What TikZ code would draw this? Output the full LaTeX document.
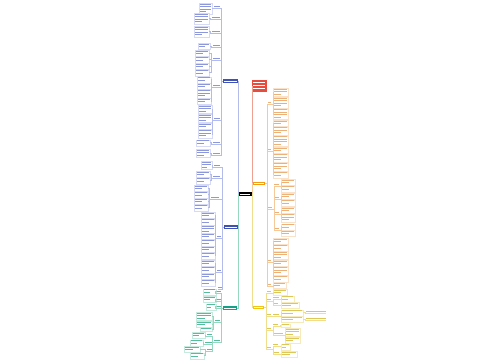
\documentclass[tikz,border=0pt]{standalone}
\usetikzlibrary{calc}
\definecolor{bnode}{HTML}{3F51B5}\definecolor{btxt}{HTML}{8C97DC}\definecolor{bborder}{HTML}{D6DAF4}\definecolor{bline}{HTML}{B3BBEA}
\definecolor{gnode}{HTML}{16A085}\definecolor{gtxt}{HTML}{55BD9C}\definecolor{gborder}{HTML}{C6EADD}\definecolor{gline}{HTML}{96D7C0}
\definecolor{rnode}{HTML}{E74C3C}\definecolor{rline}{HTML}{F0A08F}
\definecolor{onode}{HTML}{F39C12}\definecolor{otxt}{HTML}{EDB076}\definecolor{oborder}{HTML}{FAE2CA}\definecolor{oline}{HTML}{F5C999}
\definecolor{ynode}{HTML}{F1C40F}\definecolor{ytxt}{HTML}{DDC757}\definecolor{yborder}{HTML}{F5EAB8}\definecolor{yline}{HTML}{F0DE8C}
\tikzset{
  leafbox/.style={draw=#1border, line width=0.3pt, inner sep=0pt, fill=white},
  mainnode/.style={fill=#1, inner sep=0pt},
  conn/.style={draw=#1line, line width=0.4pt},
}
% leaf block: name, x left, y top, width, lines, family
\newcommand\leaf[6]{%
  \node[leafbox=#6, minimum width=#4pt, minimum height={(#5*2.4+1.2)*1pt}, anchor=north west] (#1) at (#2,#3) {};
  \foreach \k in {1,...,#5}{%
    \pgfmathsetmacro\bw{(\k==#5 && #5>1) ? 0.55*(#4-1.6) : (#4-1.6)}%
    \fill[#6txt] ({#2+0.8},{#3+2.4*\k-1.5}) rectangle ++(\bw,0.9);}%
}
% label: name, x left, y underline, width, family
\newcommand\lab[5]{%
  \node[inner sep=0pt, minimum width=#4pt, minimum height=2.6pt, anchor=south west] (#1) at (#2,#3) {};
  \fill[#5txt] ({#2+0.3},{#3-2.2}) rectangle ++({#4-0.6},0.9);
  \draw[#5line, line width=0.4pt] (#1.south west) -- (#1.south east);
}
\newcommand\Ll[3]{\draw[conn=#3] (#1.west) -- ++(-2,0) |- (#2.south east);}
\newcommand\Lc[3]{\draw[conn=#3] (#1.south west) -- ++(-1.5,0) |- (#2.east);}
\newcommand\LL[3]{\draw[conn=#3] (#1.south west) -- ++(-1.5,0) |- (#2.south east);}
\newcommand\Rl[3]{\draw[conn=#3] (#1.east) -- ++(2,0) |- (#2.south west);}
\newcommand\Rc[3]{\draw[conn=#3] (#1.south east) -- ++(1.5,0) |- (#2.west);}
\newcommand\RR[3]{\draw[conn=#3] (#1.south east) -- ++(1.5,0) |- (#2.south west);}
\newcommand\Rx[3]{\draw[conn=#3] (#1.east) -- ++(1.5,0) |- (#2.south west);}
\begin{document}
\begin{tikzpicture}[x=1pt,y=-1pt]
\fill[white] (0,0) rectangle (500,360);
\useasboundingbox (0,0) rectangle (500,360);
% main nodes
\node[mainnode=black, minimum width=13pt, minimum height=4pt] (C) at (245,194) {};
\node[mainnode=bnode, minimum width=15pt, minimum height=4pt] (B1) at (230.5,81) {};
\node[mainnode=bnode, minimum width=14pt, minimum height=3.5pt] (B2) at (231,227) {};
\node[mainnode=gnode, minimum width=14pt, minimum height=3.5pt] (G) at (230,308) {};
\node[mainnode=rnode, minimum width=15pt, minimum height=12pt] (R) at (259.5,86) {};
\node[mainnode=onode, minimum width=12pt, minimum height=3pt] (O) at (259,183.3) {};
\node[mainnode=ynode, minimum width=11pt, minimum height=3pt] (Y) at (258.5,307) {};
\foreach \n in {C,B1,B2,G,O,Y} \fill[white] ($(\n.west)+(1.5,0.5)$) rectangle ($(\n.east)+(-1.5,-0.5)$);
\foreach \i in {0,1,2} \fill[white] ($(R.north west)+(1.5,2.2+3*\i)$) rectangle ++(12,1.1);
% trunks
\draw[conn=b] (C.west) -- ++(-0.5,0) |- (B1.east);
\draw[conn=b] (C.west) -- ++(-0.5,0) |- (B2.east);
\draw[conn=g] (C.west) -- ++(-0.5,0) |- (G.east);
\draw[conn=r] (C.east) -- ++(0.5,0) |- (R.west);
\draw[conn=o] (C.east) -- ++(0.5,0) |- (O.west);
\draw[conn=y] (C.east) -- ++(0.5,0) |- (Y.west);
% ---------- blue 1 ----------
\lab{a1}{214}{8}{6}{b} \leaf{a1x}{199}{3}{13}{4}{b}
\lab{a2}{212}{19}{8}{b} \leaf{a2x}{194}{13}{15}{4}{b}
\lab{a3}{212}{33}{8}{b} \leaf{a3x}{194}{26}{15}{4}{b}
\lab{a4}{213}{47}{7}{b} \leaf{a4x}{198}{43}{12}{2}{b}
\lab{a5}{213}{60}{7}{b}
\leaf{a5x1}{195}{50}{14}{2}{b}\leaf{a5x2}{195}{56.5}{14}{2}{b}\leaf{a5x3}{195}{63}{14}{2}{b}\leaf{a5x4}{195}{69.5}{14}{2}{b}
\lab{a6}{213}{87}{7}{b}
\leaf{a6x1}{197}{76.5}{14}{2}{b}\leaf{a6x2}{197}{83}{14}{2}{b}\leaf{a6x3}{197}{89.5}{14}{3}{b}\leaf{a6x4}{197}{98}{14}{2}{b}
\lab{a7}{214}{120}{6}{b}
\leaf{a7x1}{198}{105}{14}{3}{b}\leaf{a7x2}{198}{114}{14}{3}{b}\leaf{a7x3}{198}{123}{14}{2}{b}\leaf{a7x4}{198}{129.5}{14}{3}{b}
\lab{a8}{213}{144}{7}{b} \leaf{a8x}{196}{139.5}{14}{2}{b}
\lab{a9}{213}{155}{7}{b} \leaf{a9x}{196}{149}{14}{3}{b}
\foreach \l in {a1,a2,a3,a4,a5,a6,a7,a8,a9} \Ll{B1}{\l}{b};
\Lc{a1}{a1x}{b}\Lc{a2}{a2x}{b}\Lc{a3}{a3x}{b}\Lc{a4}{a4x}{b}\Lc{a8}{a8x}{b}\Lc{a9}{a9x}{b}
\foreach \j in {1,...,4} {\Lc{a5}{a5x\j}{b}\Lc{a6}{a6x\j}{b}\Lc{a7}{a7x\j}{b}}
% ---------- blue 2 ----------
\lab{b1}{214}{167}{6}{b} \leaf{b1x}{201}{161}{11}{3}{b}
\lab{b2}{213}{178}{7}{b} \leaf{b2x1}{196}{171}{14}{2}{b}\leaf{b2x2}{196}{177.5}{14}{2}{b}
\lab{b3}{211}{199}{8}{b}
\leaf{b3x1}{194}{185}{14}{2}{b}\leaf{b3x2}{194}{191.5}{14}{2}{b}\leaf{b3x3}{194}{198}{14}{2}{b}\leaf{b3x4}{194}{204.5}{14}{2}{b}
\lab{b4}{217}{238}{4}{b}
\leaf{b4x1}{201}{212}{14}{2}{b}\leaf{b4x2}{201}{218.5}{14}{2}{b}\leaf{b4x3}{201}{225}{14}{3}{b}\leaf{b4x4}{201}{233}{14}{2}{b}
\leaf{b4x5}{201}{239.5}{14}{2}{b}\leaf{b4x6}{201}{246}{14}{2}{b}\leaf{b4x7}{201}{252.5}{14}{2}{b}
\lab{b5}{217}{272}{4}{b}
\leaf{b5x1}{201}{260}{14}{2}{b}\leaf{b5x2}{201}{266.5}{14}{2}{b}\leaf{b5x3}{201}{273}{14}{2}{b}\leaf{b5x4}{201}{279.5}{14}{2}{b}
\lab{b6}{218}{289}{4}{b}
\foreach \l in {b1,b2,b3,b4,b5,b6} \Ll{B2}{\l}{b};
\Lc{b1}{b1x}{b}\Lc{b2}{b2x1}{b}\Lc{b2}{b2x2}{b}
\foreach \j in {1,...,4} {\Lc{b3}{b3x\j}{b}\Lc{b5}{b5x\j}{b}}
\foreach \j in {1,...,7} {\Lc{b4}{b4x\j}{b}}
% ---------- green ----------
\lab{g1}{217}{293}{4}{g} \leaf{g1x}{203}{288.5}{12.5}{2}{g}
\lab{g2}{217}{301}{4}{g} \leaf{g2x}{203}{296}{12.5}{2}{g}
\lab{g3}{217}{308}{4}{g} \leaf{g3x}{206}{303.5}{9.5}{2}{g}
\lab{g4}{215}{322}{5}{g}
\leaf{g4x1}{196}{312}{16}{3}{g}\leaf{g4x2}{196}{321}{16}{2}{g}\leaf{g4x3}{200}{327.5}{12}{1}{g}
\lab{g5}{214}{342}{6}{g}
\lab{g5a}{207}{336}{5}{g} \leaf{g5ax}{192}{332}{13}{2}{g}
\lab{g5b}{205}{344}{7}{g} \leaf{g5bx}{190}{339.5}{13}{2}{g}
\lab{g5c}{207}{351}{5}{g} \leaf{g5cx1}{184}{346}{16}{2}{g}\leaf{g5cx2}{190}{352.5}{14}{2}{g}
\foreach \l in {g1,g2,g3,g4,g5} \Ll{G}{\l}{g};
\Lc{g1}{g1x}{g}\Lc{g2}{g2x}{g}\Lc{g3}{g3x}{g}
\foreach \j in {1,2,3} {\Lc{g4}{g4x\j}{g}}
\LL{g5}{g5a}{g}\LL{g5}{g5b}{g}\LL{g5}{g5c}{g}
\Lc{g5a}{g5ax}{g}\Lc{g5b}{g5bx}{g}\Lc{g5c}{g5cx1}{g}\Lc{g5c}{g5cx2}{g}
% ---------- orange ----------
\lab{c1}{268}{104}{3.5}{o}
\leaf{c1x1}{273}{88}{15}{3}{o}\leaf{c1x2}{273}{97}{15}{4}{o}\leaf{c1x3}{273}{108.5}{15}{4}{o}
\lab{c2}{268}{151}{3.5}{o}
\leaf{c2x1}{273}{120}{15}{2}{o}\leaf{c2x2}{273}{126.5}{15}{3}{o}\leaf{c2x3}{273}{135.5}{15}{4}{o}\leaf{c2x4}{273}{147}{15}{2}{o}
\leaf{c2x5}{273}{153.5}{15}{3}{o}\leaf{c2x6}{273}{162.5}{15}{3}{o}\leaf{c2x7}{273}{171.5}{15}{2}{o}
\lab{c3}{268}{209}{4}{o}
\lab{d1}{274}{186}{5}{o}\leaf{d1x1}{281}{179}{14}{2}{o}\leaf{d1x2}{281}{185.5}{14}{2}{o}
\lab{d2}{274}{199}{5}{o}\leaf{d2x1}{281}{193}{14}{2}{o}\leaf{d2x2}{281}{199.5}{14}{2}{o}
\lab{d3}{274}{214}{5}{o}\leaf{d3x1}{281}{207}{14}{2}{o}\leaf{d3x2}{281}{213.5}{14}{3}{o}
\lab{d4}{274}{230}{5}{o}\leaf{d4x1}{281}{223.5}{14}{2}{o}\leaf{d4x2}{281}{230}{14}{2}{o}
\lab{c4}{268}{262}{3.5}{o}
\leaf{c4x1}{273}{238}{15}{2}{o}\leaf{c4x2}{273}{244.5}{15}{2}{o}\leaf{c4x3}{273}{251}{15}{3}{o}
\leaf{c4x4}{273}{260}{15}{2}{o}\leaf{c4x5}{273}{266.5}{15}{3}{o}\leaf{c4x6}{273}{275.5}{15}{2}{o}
\lab{c5}{268}{286}{3.5}{o} \leaf{c5x}{273}{282}{13}{2}{o}
\foreach \l in {c1,c2,c3,c4,c5} \Rl{O}{\l}{o};
\foreach \j in {1,2,3} {\Rc{c1}{c1x\j}{o}}
\foreach \j in {1,...,7} {\Rc{c2}{c2x\j}{o}}
\foreach \j in {1,...,6} {\Rc{c4}{c4x\j}{o}}
\Rc{c5}{c5x}{o}
\foreach \d in {d1,d2,d3,d4} {\RR{c3}{\d}{o}\Rc{\d}{\d x1}{o}\Rc{\d}{\d x2}{o}}
% ---------- yellow ----------
\lab{e1}{267}{293}{4}{y} \leaf{e1x}{273}{289}{14}{2}{y}
\lab{e2}{267}{301}{4}{y}
\lab{f1}{273}{299}{6}{y} \leaf{f1x}{281}{295.5}{13}{2}{y}
\lab{f2}{273}{305}{5}{y} \leaf{f2x}{281}{302}{18}{2}{y}
\lab{e3}{267}{316}{4}{y}
\lab{f3}{273}{316}{6}{y} \leaf{f3x1}{281}{309.5}{22}{2}{y}\leaf{f3x2}{281}{316}{22}{2}{y}
\lab{h1}{306}{313}{20}{y} \lab{h2}{306}{320}{20}{y}
\lab{e4}{267}{330}{4}{y}
\lab{f4}{273}{326}{5}{y} \leaf{f4x}{281}{323.5}{9}{1}{y}
\lab{f5}{273}{335}{10}{y} \leaf{f5x1}{285}{328}{15}{3}{y}\leaf{f5x2}{285}{337}{15}{2}{y}
\lab{e5}{267}{349}{4}{y}
\lab{f6}{273}{346}{5}{y} \leaf{f6x}{281}{343.5}{9}{2}{y}
\lab{f7}{273}{354}{6}{y} \leaf{f7x}{281}{351}{16}{2}{y}
\foreach \l in {e1,e2,e3,e4,e5} \Rl{Y}{\l}{y};
\Rc{e1}{e1x}{y}
\RR{e2}{f1}{y}\RR{e2}{f2}{y}\RR{e3}{f3}{y}\RR{e4}{f4}{y}\RR{e4}{f5}{y}\RR{e5}{f6}{y}\RR{e5}{f7}{y}
\Rc{f1}{f1x}{y}\Rc{f2}{f2x}{y}\Rc{f3}{f3x1}{y}\Rc{f3}{f3x2}{y}\Rc{f4}{f4x}{y}
\Rc{f5}{f5x1}{y}\Rc{f5}{f5x2}{y}\Rc{f6}{f6x}{y}\Rc{f7}{f7x}{y}
\Rx{f3x1}{h1}{y}\Rx{f3x2}{h2}{y}
\end{tikzpicture}
\end{document}
